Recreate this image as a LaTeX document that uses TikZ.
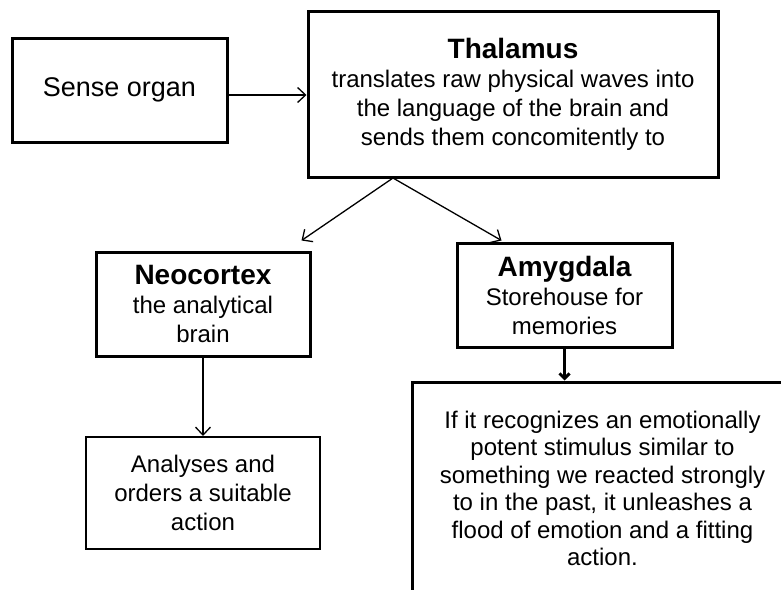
\documentclass[tikz,border=0pt]{standalone}
\usepackage{fontspec}
\setmainfont{Liberation Sans}
\usetikzlibrary{arrows.meta}
\newcommand{\hd}[1]{{\fontsize{28}{31}\selectfont\bfseries #1}}
\begin{document}
\begin{tikzpicture}[x=1pt,y=-1pt,
  box/.style={draw,line width=3pt,align=center,inner sep=0pt,font=\fontsize{24}{29}\selectfont},
  link/.style={-{Straight Barb[length=8pt,width=15pt]},line width=1.3pt}]
  \clip (0,0) rectangle (781,589);

  \node[box,minimum width=215pt,minimum height=104pt,font=\fontsize{27}{30}\selectfont] (sense) at (119.5,90) {Sense organ};
  \node[box,minimum width=410pt,minimum height=166pt] (thal) at (513,94)
    {\hd{Thalamus}\\translates raw physical waves into\\the language of the brain and\\sends them concomitently to};
  \node[box,minimum width=214pt,minimum height=104pt] (neo) at (203,304)
    {\hd{Neocortex}\\the analytical\\brain};
  \node[box,line width=2pt,minimum width=234pt,minimum height=112pt] (act) at (203,493)
    {Analyses and\\orders a suitable\\action};
  \node[box,minimum width=215pt,minimum height=104pt] (amy) at (564.5,295)
    {\hd{Amygdala}\\Storehouse for\\memories};
  \node[box,minimum width=381pt,minimum height=213pt,font=\fontsize{24}{27.5}\selectfont] (flood) at (602.5,488.5)
    {If it recognizes an emotionally\\potent stimulus similar to\\something we reacted strongly\\to in the past, it unleashes a\\flood of emotion and a fitting\\action.};

  \coordinate (fork) at (393,178);

  \draw[link] ([yshift=-5pt]sense.east) -- ([yshift=-5pt]sense.east -| thal.west);
  \draw[link] (fork) -- ([xshift=-10pt,yshift=10pt]neo.north east);
  \draw[link] (fork) -- ([xshift=46pt,yshift=1pt]amy.north west);
  \draw[link] (neo.south) -- (act.north);
  \draw[link,line width=3pt,-{Straight Barb[length=5pt,width=10pt]}] (amy.south) -- (amy.south |- flood.north);
\end{tikzpicture}
\end{document}
